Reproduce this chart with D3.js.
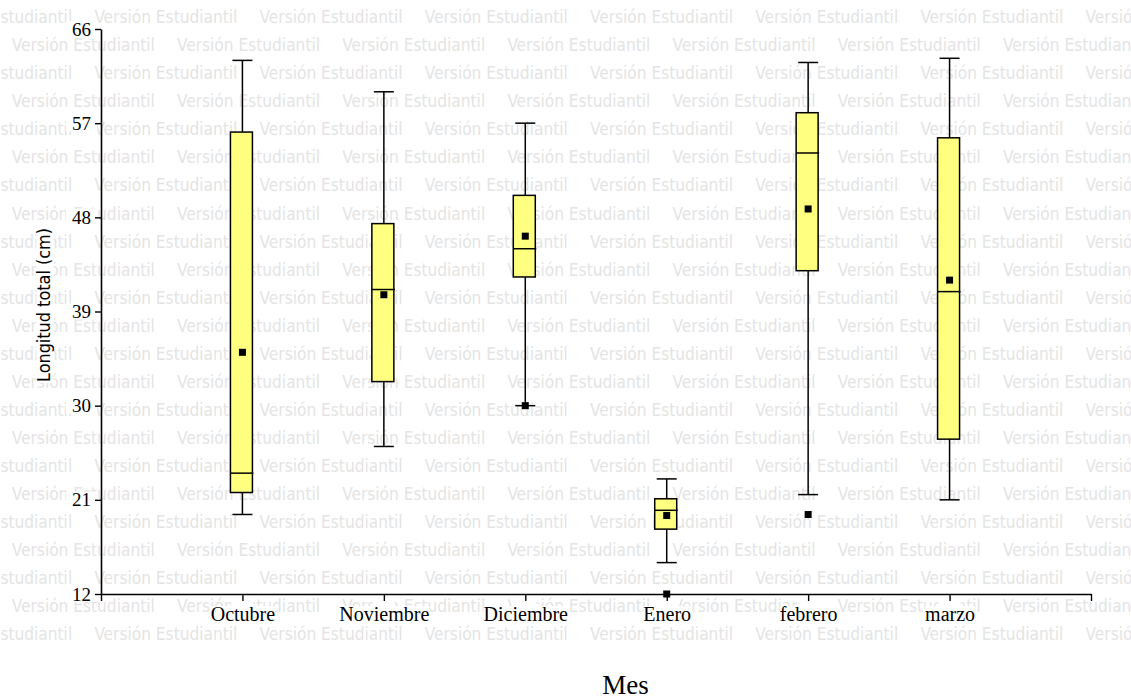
<!DOCTYPE html>
<html>
<head>
<meta charset="utf-8">
<script src="https://cdn.jsdelivr.net/npm/d3@7"></script>
<style>
  html, body { margin: 0; padding: 0; background: #ffffff; }
  svg { display: block; }
</style>
</head>
<body>
<svg id="chart" width="1131" height="699"></svg>
<script>
// ---- data ----
const categories = ["Octubre", "Noviembre", "Diciembre", "Enero", "febrero", "marzo"];
const minV    = [19.6, 26.1, 30.0, 15.0, 21.5, 21.0];
const q1V     = [21.7, 32.3, 42.3, 18.2, 42.9, 26.8];
const medianV = [23.55, 41.1, 45.0, 20.0, 54.15, 40.9];
const q3V     = [56.15, 47.4, 50.1, 21.1, 58.0, 55.6];
const maxV    = [63.0, 60.0, 57.0, 23.0, 62.8, 63.2];
const meanV   = [35.1, 40.6, 46.2, 19.5, 48.8, 42.0];
const pointCat = ["Diciembre", "Enero", "febrero"];
const pointVal = [30.0, 12.0, 19.6];
const yTicks = [12, 21, 30, 39, 48, 57, 66];
const xTitle = "Mes";
const yTitle = "Longitud total (cm)";
const watermarkText = "Versión Estudiantil";

const svg = d3.select("#chart");
const W = 1131, H = 699;

// ---- watermark ----
const wm = svg.append("g");
const rowGap = 28.03, period = 165.2;
for (let k = 0; k < 23; k++) {
  const yb = 23.3 + k * rowGap;
  const start = (k % 2 === 0) ? -70.8 : 11.8;
  for (let x0 = start; x0 < W; x0 += period) {
    wm.append("text")
      .attr("x", x0).attr("y", yb)
      .attr("textLength", 143).attr("lengthAdjust", "spacingAndGlyphs")
      .style("font-family", "'DejaVu Sans Condensed','DejaVu Sans',sans-serif")
      .style("font-size", "17px")
      .style("fill", "#e4e4e4")
      .text(watermarkText);
  }
}

// ---- scales ----
const positions = d3.range(categories.length + 2);
const x = d3.scalePoint().domain(positions).range([101, 1091]);
const y = d3.scaleLinear().domain([12, 66]).range([594, 29]);
const xc = c => x(categories.indexOf(c) + 1);

const serif = "'Liberation Serif','Times New Roman',serif";

// ---- white backings (labels hide the watermark) ----
const bg = svg.append("g").attr("fill", "#ffffff");
yTicks.forEach(t => bg.append("rect").attr("x", 66).attr("y", y(t) - 8).attr("width", 31).attr("height", 16));
positions.slice(1, -1).forEach(p => bg.append("rect").attr("x", x(p) - 11).attr("y", 596).attr("width", 22).attr("height", 13));

// ---- axes ----
const yAxis = d3.axisLeft(y).tickValues(yTicks).tickSize(6).tickSizeOuter(0).tickPadding(4);
const gy = svg.append("g").attr("transform", "translate(101,0)").call(yAxis);
gy.select(".domain").attr("stroke", "#000").attr("stroke-width", 1.6);
gy.selectAll(".tick line").attr("stroke", "#000").attr("stroke-width", 1.4);
gy.selectAll(".tick text")
  .style("font-family", serif).style("font-size", "19px").attr("fill", "#000");

const xAxis = d3.axisBottom(x).tickValues(positions).tickSize(7).tickSizeOuter(0).tickPadding(6)
  .tickFormat(p => (p >= 1 && p <= categories.length) ? categories[p - 1] : "");
const gx = svg.append("g").attr("transform", "translate(0,594)").call(xAxis);
gx.select(".domain").attr("stroke", "#000").attr("stroke-width", 1.6);
gx.selectAll(".tick line").attr("stroke", "#000").attr("stroke-width", 1.4);
gx.selectAll(".tick text")
  .style("font-family", serif).style("font-size", "20px").attr("fill", "#000");

// white backgrounds behind category labels
gx.selectAll(".tick text").each(function() {
  const b = this.getBBox();
  if (b.width > 0) {
    d3.select(this.parentNode).insert("rect", "text")
      .attr("x", b.x).attr("y", b.y + 3).attr("width", b.width).attr("height", b.height - 6)
      .attr("fill", "#fff");
  }
});

// ---- boxes ----
const g = svg.append("g");
categories.forEach((c, i) => {
  const cx = xc(c);
  // whisker
  g.append("line").attr("x1", cx).attr("x2", cx).attr("y1", y(maxV[i])).attr("y2", y(minV[i]))
    .attr("stroke", "#000").attr("stroke-width", 1.5);
  g.append("line").attr("x1", cx - 10).attr("x2", cx + 10).attr("y1", y(maxV[i])).attr("y2", y(maxV[i]))
    .attr("stroke", "#000").attr("stroke-width", 1.5);
  g.append("line").attr("x1", cx - 10).attr("x2", cx + 10).attr("y1", y(minV[i])).attr("y2", y(minV[i]))
    .attr("stroke", "#000").attr("stroke-width", 1.5);
  // box
  g.append("rect").attr("x", cx - 12).attr("width", 22)
    .attr("y", y(q3V[i])).attr("height", y(q1V[i]) - y(q3V[i]))
    .attr("fill", "#ffff80").attr("stroke", "#000").attr("stroke-width", 1.5);
  // median
  g.append("line").attr("x1", cx - 12).attr("x2", cx + 11).attr("y1", y(medianV[i])).attr("y2", y(medianV[i]))
    .attr("stroke", "#000").attr("stroke-width", 1.5);
  // mean
  g.append("rect").attr("x", cx - 3.5).attr("y", y(meanV[i]) - 3.5).attr("width", 7).attr("height", 7)
    .attr("fill", "#000");
});
pointCat.forEach((c, i) => {
  g.append("rect").attr("x", xc(c) - 3.5).attr("y", y(pointVal[i]) - 3.5).attr("width", 7).attr("height", 7)
    .attr("fill", "#000");
});

// ---- titles ----
const yl = svg.append("g").attr("transform", "translate(49.5,305) rotate(-90)");
yl.append("rect").attr("x", -78).attr("y", -13).attr("width", 156).attr("height", 17).attr("fill", "#fff");
yl.append("text").attr("text-anchor", "middle")
  .attr("textLength", 154).attr("lengthAdjust", "spacingAndGlyphs")
  .style("font-family", "'DejaVu Sans Condensed','DejaVu Sans',sans-serif")
  .style("font-size", "17px").attr("fill", "#000")
  .text(yTitle);

svg.append("text").attr("x", 625.5).attr("y", 694).attr("text-anchor", "middle")
  .style("font-family", serif).style("font-size", "27px").attr("fill", "#000")
  .text(xTitle);
</script>
</body>
</html>
